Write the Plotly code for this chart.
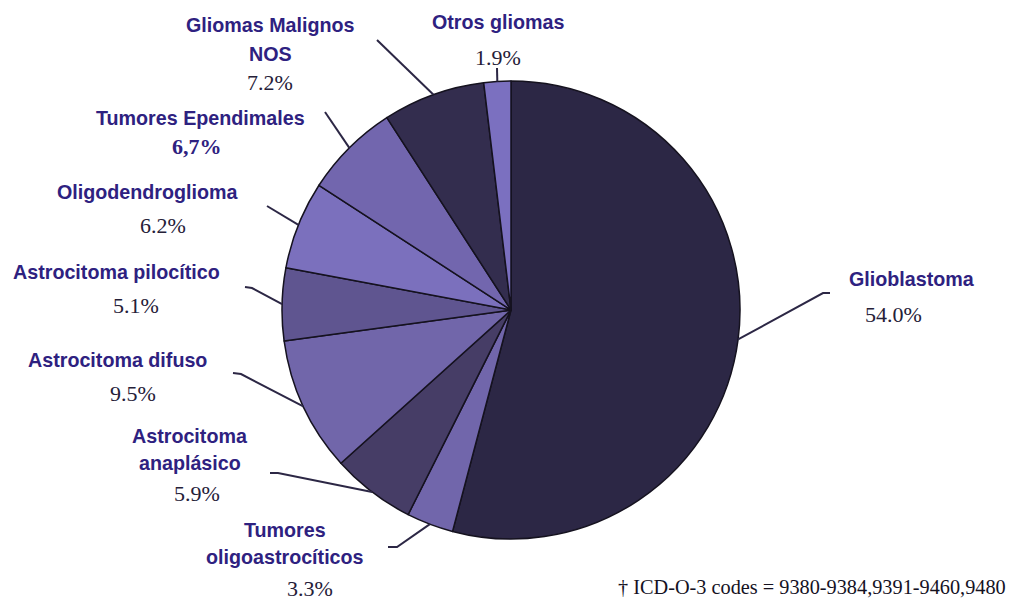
import math
import plotly.graph_objects as go

W, H = 1027, 600
OFF = 8  # page body margin
FW, FH = W - OFF, H - OFF

# ---- data ----
categories = ["Glioblastoma", "Tumores oligoastrocíticos", "Astrocitoma anaplásico",
              "Astrocitoma difuso", "Astrocitoma pilocítico", "Oligodendroglioma",
              "Tumores Ependimales", "Gliomas Malignos NOS", "Otros gliomas"]
values = [54.0, 3.3, 5.9, 9.5, 5.1, 6.2, 6.7, 7.2, 1.9]
label_lines = [["Glioblastoma"], ["Tumores", "oligoastrocíticos"], ["Astrocitoma", "anaplásico"],
               ["Astrocitoma difuso"], ["Astrocitoma pilocítico"], ["Oligodendroglioma"],
               ["Tumores Ependimales"], ["Gliomas Malignos", "NOS"], ["Otros gliomas"]]
pct_text = ["54.0%", "3.3%", "5.9%", "9.5%", "5.1%", "6.2%", "6,7%", "7.2%", "1.9%"]
colors = ["#2c2745", "#7166ab", "#463d66", "#7166aa", "#5f5590",
          "#7b70bd", "#7266ae", "#332d4e", "#7b70c0"]
footnote = "† ICD-O-3 codes = 9380-9384,9391-9460,9480"

# ---- layout (page pixels) ----
CX, CY, R = 511, 310, 229
# label name lines: (x, first line y, line gap), percent position (x, y)
label_pos = [
    (912, 279, 28, 893, 315),
    (285, 530, 27, 310, 588),
    (190, 436, 27, 197, 493),
    (117, 360, 28, 133, 393),
    (116, 272, 28, 136, 305),
    (148, 192, 28, 163, 225),
    (200, 118, 28, 197, 147),
    (270, 25, 29, 270, 82),
    (498, 22, 28, 498, 58),
]
# leader: (end x, end y, elbow x, elbow y)
leaders = [
    (830, 293, 823, 293),
    (388, 547, 397, 547),
    (270, 473, 278, 473),
    (233, 373, 241, 374),
    (245, 287, 252, 288),
    (267, 206, 267, 206),
    (325, 112, 325, 112),
    (377, 40, 377, 40),
    (497, 68, 497, 68),
]

def px(x):
    return (x - OFF) / FW

def py(y):
    return 1 - (y - OFF) / FH

fig = go.Figure(go.Pie(
    labels=categories, values=values, sort=False, direction="clockwise", rotation=0,
    textinfo="none", hoverinfo="label+percent",
    marker=dict(colors=colors, line=dict(color="#15121f", width=1.5)),
    domain=dict(x=[px(CX - R), px(CX + R)], y=[py(CY + R), py(CY - R)]),
    showlegend=False,
))

total = sum(values)
cum = 0.0
shapes = []
annotations = []
LABEL_COLOR = "#2e2180"
for i, v in enumerate(values):
    mid = (cum + v / 2) / total * 2 * math.pi
    cum += v
    rx = CX + R * math.sin(mid)
    ry = CY - R * math.cos(mid)
    ex, ey, bx, by = leaders[i]
    path = f"M {px(ex)},{py(ey)} L {px(bx)},{py(by)} L {px(rx)},{py(ry)}"
    shapes.append(dict(type="path", xref="paper", yref="paper", path=path,
                       line=dict(color="#2c2745", width=2)))
    lx, ly, gap, pxx, pyy = label_pos[i]
    for k, line in enumerate(label_lines[i]):
        annotations.append(dict(x=px(lx), y=py(ly + k * gap), xref="paper", yref="paper",
                                text=f"<b>{line}</b>", showarrow=False,
                                xanchor="center", yanchor="middle",
                                font=dict(family="Liberation Sans, Arial", size=19.7, color=LABEL_COLOR)))
    bold = "," in pct_text[i]
    annotations.append(dict(x=px(pxx), y=py(pyy), xref="paper", yref="paper",
                            text=(f"<b>{pct_text[i]}</b>" if bold else pct_text[i]),
                            showarrow=False, xanchor="center", yanchor="middle",
                            font=dict(family="Liberation Serif, Times New Roman", size=22,
                                      color=("#2e2180" if bold else "#252038"))))

annotations.append(dict(x=px(812), y=py(587), xref="paper", yref="paper", text=footnote,
                        showarrow=False, xanchor="center", yanchor="middle",
                        font=dict(family="Liberation Serif, Times New Roman", size=20.3, color="#15121f")))

fig.update_layout(width=FW, height=FH, margin=dict(l=0, r=0, t=0, b=0),
                  paper_bgcolor="white", plot_bgcolor="white",
                  shapes=shapes, annotations=annotations)
fig.write_html("out.html")
